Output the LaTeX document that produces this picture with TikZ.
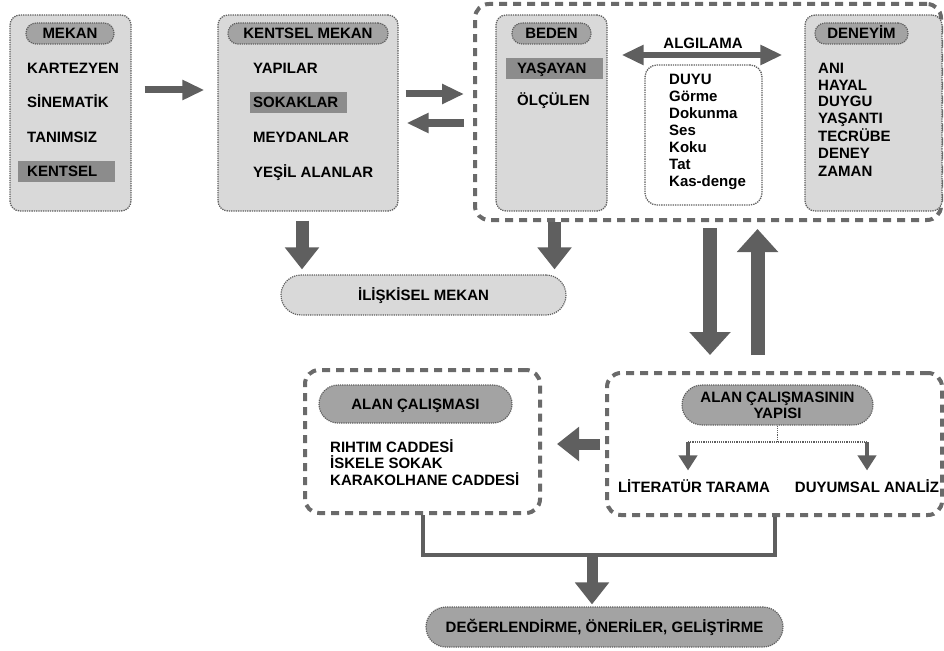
\documentclass[tikz,border=0pt]{standalone}
\usepackage{fontspec}
\setmainfont{Liberation Sans}
\usepackage{tikz}
\usetikzlibrary{arrows.meta,calc}

\definecolor{panelfill}{HTML}{D9D9D9}
\definecolor{pillfill}{HTML}{A3A3A3}
\definecolor{markfill}{HTML}{8C8C8C}
\definecolor{arrowgray}{HTML}{5F5F5F}
\definecolor{dotgray}{HTML}{5E5E5E}
\definecolor{dashgray}{HTML}{6A6A6A}

\tikzset{
  panel/.style={draw=dotgray, densely dotted, line width=1.3pt, fill=panelfill, rounded corners=10pt, inner sep=0pt},
  pill/.style={draw=dotgray, densely dotted, line width=1.2pt, fill=pillfill, rounded corners=10pt, inner sep=0pt, text height=10.7pt, text depth=0pt},
  dashframe/.style={draw=dashgray, line width=4pt, dash pattern=on 8pt off 6pt, rounded corners=14pt, inner sep=0pt},
  item/.style={anchor=west, inner sep=0pt, text height=10.7pt, text depth=0pt},
  markbox/.style={fill=markfill, anchor=west, minimum height=21pt, align=left, inner ysep=0pt, text height=10.7pt, text depth=0pt},
  fatarrow/.style={draw=arrowgray, line width=7pt, -{Triangle[width=19pt,length=22pt]}},
  dblarrow/.style={draw=arrowgray, line width=6pt, {Triangle[width=19pt,length=22pt]}-{Triangle[width=19pt,length=22pt]}},
  bigarrow/.style={draw=arrowgray, line width=13pt, -{Triangle[width=33pt,length=22pt]}},
  vertarrow/.style={draw=arrowgray, line width=14pt, -{Triangle[width=40pt,length=23pt]}},
  thinarrow/.style={draw=arrowgray, line width=4pt, -{Triangle[width=18pt,length=15pt]}},
  brk/.style={draw=arrowgray, line width=4pt},
  branchline/.style={draw=dotgray, densely dotted, line width=1.2pt}
}

\begin{document}
\begin{tikzpicture}[x=1pt, y=-1pt, every node/.style={font=\fontsize{15}{16}\selectfont\bfseries}]
  \useasboundingbox (0,0) rectangle (944,650);

  % mekan
  \node[panel, minimum width=121pt, minimum height=196pt] (mekan) at (70.5,113) {};
  \node[pill, minimum width=88pt, minimum height=21pt] (mekanT) at (70,33.5) {MEKAN};
  \node[item] (kartezyen) at (27,68) {KARTEZYEN};
  \node[item] (sinematik) at (27,102) {SİNEMATİK};
  \node[item] (tanimsiz) at (27,137) {TANIMSIZ};
  \node[markbox, inner xsep=9pt, text width=79pt] (kentselI) at (18,171.5) {KENTSEL};

  % kentsel mekan
  \node[panel, minimum width=180pt, minimum height=196pt] (kentsel) at (308,113) {};
  \node[pill, minimum width=160pt, minimum height=21pt] (kentselT) at (308,33.5) {KENTSEL MEKAN};
  \node[item] (yapilar) at (253,68) {YAPILAR};
  \node[markbox, inner xsep=3pt, text width=91pt] (sokaklar) at (250,102.5) {SOKAKLAR};
  \node[item] (meydanlar) at (253,137) {MEYDANLAR};
  \node[item] (yesil) at (253,172) {YEŞİL ALANLAR};

  \draw[fatarrow, shorten <=13pt, shorten >=13pt] ($(mekan.east)+(0,-23)$) -- ($(kentsel.west)+(0,-23)$);

  % beden - algilama - deneyim
  \node[dashframe, minimum width=466pt, minimum height=216pt] (algi) at (708,112) {};
  \draw[fatarrow, shorten <=7pt, shorten >=9pt] ($(kentsel.east)+(0,-19)$) -- ($(kentsel.east -| algi.west)+(0,-19)$);
  \draw[fatarrow, shorten <=9pt, shorten >=8pt] ($(kentsel.east -| algi.west)+(0,10)$) -- ($(kentsel.east)+(0,10)$);

  \node[panel, minimum width=111pt, minimum height=196pt] (beden) at (551.5,113) {};
  \node[pill, minimum width=79pt, minimum height=21pt] (bedenT) at (551.5,33.5) {BEDEN};
  \node[markbox, inner xsep=11pt, text width=75pt] (yasayan) at (506,68.5) {YAŞAYAN};
  \node[item] (olculen) at (517,100) {ÖLÇÜLEN};

  \node[panel, minimum width=137pt, minimum height=196pt] (deneyim) at (873.5,113) {};
  \node[pill, minimum width=93pt, minimum height=21pt] (deneyimT) at (861.5,33.5) {DENEYİM};
  \node[item] (ani) at (818,68) {ANI};
  \node[item] (hayal) at (818,85) {HAYAL};
  \node[item] (duygu) at (818,101.5) {DUYGU};
  \node[item] (yasanti) at (818,118.5) {YAŞANTI};
  \node[item] (tecrube) at (818,136) {TECRÜBE};
  \node[item] (deney) at (818,153) {DENEY};
  \node[item] (zaman) at (818,171) {ZAMAN};

  \node[item, anchor=center] (algilama) at (703,43) {ALGILAMA};
  \draw[dblarrow, shorten <=14pt, shorten >=22pt] ($(beden.east)+(0,-58)$) -- ($(deneyim.west)+(0,-58)$);

  \node[panel, fill=white, rounded corners=12pt, minimum width=117pt, minimum height=140pt] (duyuB) at (703.5,135) {};
  \node[item] (duyu) at (669,79) {DUYU};
  \node[item] (gorme) at (669,96) {Görme};
  \node[item] (dokunma) at (669,113) {Dokunma};
  \node[item] (ses) at (669,130) {Ses};
  \node[item] (koku) at (669,147) {Koku};
  \node[item] (tat) at (669,164) {Tat};
  \node[item] (kasdenge) at (669,181.5) {Kas-denge};

  % iliskisel mekan
  \node[pill, fill=panelfill, rounded corners=20pt, minimum width=285pt, minimum height=40pt] (iliskisel) at (423.5,295) {İLİŞKİSEL MEKAN};
  \draw[bigarrow, shorten <=9pt, shorten >=5pt] ($(kentsel.south)+(-6,0)$) -- ($(kentsel.south |- iliskisel.north)+(-6,0)$);
  \draw[bigarrow, shorten >=5pt] ($(beden.south |- algi.south)+(3,0)$) -- ($(beden.south |- iliskisel.north)+(3,0)$);

  % alan calismasinin yapisi
  \node[dashframe, minimum width=335pt, minimum height=142pt] (yapi) at (774.5,444) {};
  \node[pill, rounded corners=20pt, minimum width=191pt, minimum height=40pt, align=center, text height=26.7pt] (yapiT) at (777.5,405) {ALAN ÇALIŞMASININ\\YAPISI};
  \node[item, anchor=center] (literatur) at (694,487) {LİTERATÜR TARAMA};
  \node[item, anchor=center] (duyumsal) at (867,487) {DUYUMSAL ANALİZ};
  \coordinate (brL) at (688,442);
  \coordinate (brR) at (867,442);
  \draw[branchline] (yapiT.south) -- (yapiT.south |- brL);
  \draw[branchline] (brL) -- (brR);
  \draw[thinarrow, shorten >=11pt] (brL) -- (brL |- literatur.north);
  \draw[thinarrow, shorten >=11pt] (brR) -- (brR |- duyumsal.north);

  \draw[vertarrow, shorten <=6pt, shorten >=16pt] ($(algi.south)+(2,0)$) -- ($(algi.south |- yapi.north)+(2,0)$);
  \draw[vertarrow, shorten <=16pt, shorten >=7pt] ($(algi.south |- yapi.north)+(49.5,0)$) -- ($(algi.south)+(49.5,0)$);

  % alan calismasi
  \node[dashframe, minimum width=235pt, minimum height=143pt] (alan) at (422.5,441.5) {};
  \node[pill, rounded corners=19pt, minimum width=193pt, minimum height=38pt] (alanT) at (415.5,404) {ALAN ÇALIŞMASI};
  \node[item] (rihtim) at (330,447) {RIHTIM CADDESİ};
  \node[item] (iskele) at (330,463.5) {İSKELE SOKAK};
  \node[item] (karakol) at (330,480) {KARAKOLHANE CADDESİ};

  \draw[bigarrow, line width=11pt, shorten <=5pt, shorten >=15pt] (yapi.west) -- (yapi.west -| alan.east);

  % sonuc
  \node[pill, rounded corners=20pt, minimum width=357pt, minimum height=40pt] (sonuc) at (604.5,627) {DEĞERLENDİRME, ÖNERİLER, GELİŞTİRME};
  \coordinate (jn) at (592,555);
  \draw[brk] (alan.south) |- (jn) -| (yapi.south);
  \draw[bigarrow, line width=11pt, shorten >=2pt] (jn) -- (jn |- sonuc.north);
\end{tikzpicture}
\end{document}
